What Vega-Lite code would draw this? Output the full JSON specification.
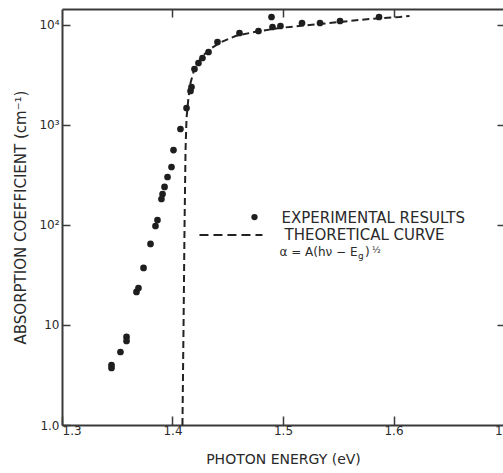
{
  "$schema": "https://vega.github.io/schema/vega-lite/v6.json",
  "width": 442,
  "height": 416,
  "autosize": {"type": "none"},
  "padding": {"left": 62, "top": 9, "right": 0, "bottom": 48},
  "background": "white",
  "config": {
    "font": "DejaVu Sans",
    "view": {"stroke": null},
    "axis": {"grid": false, "domainColor": "#3a3a3a", "domainWidth": 2, "tickColor": "#3a3a3a", "tickWidth": 1.5, "labelColor": "#2a2a2a", "titleColor": "#2a2a2a", "labelFont": "DejaVu Sans", "titleFont": "DejaVu Sans", "titleFontWeight": "normal"}
  },
  "datasets": {
    "exp": [
      {"energy": 1.3448, "alpha": 3.98}, {"energy": 1.3448, "alpha": 3.72}, {"energy": 1.3529, "alpha": 5.37},
      {"energy": 1.3584, "alpha": 7.59}, {"energy": 1.3584, "alpha": 6.92}, {"energy": 1.3674, "alpha": 21.4},
      {"energy": 1.3692, "alpha": 23.4}, {"energy": 1.3738, "alpha": 37.2}, {"energy": 1.3801, "alpha": 64.6},
      {"energy": 1.3846, "alpha": 97.7}, {"energy": 1.3864, "alpha": 112}, {"energy": 1.39, "alpha": 182},
      {"energy": 1.391, "alpha": 204}, {"energy": 1.3928, "alpha": 240}, {"energy": 1.3955, "alpha": 302},
      {"energy": 1.3991, "alpha": 380}, {"energy": 1.4009, "alpha": 562}, {"energy": 1.4072, "alpha": 912},
      {"energy": 1.4127, "alpha": 1479}, {"energy": 1.4163, "alpha": 2188}, {"energy": 1.4172, "alpha": 2399},
      {"energy": 1.4199, "alpha": 3631}, {"energy": 1.4235, "alpha": 4169}, {"energy": 1.4271, "alpha": 4677},
      {"energy": 1.4326, "alpha": 5370}, {"energy": 1.4407, "alpha": 6761}, {"energy": 1.4606, "alpha": 8318},
      {"energy": 1.4778, "alpha": 8710}, {"energy": 1.4896, "alpha": 12023}, {"energy": 1.4905, "alpha": 9550},
      {"energy": 1.4977, "alpha": 9772}, {"energy": 1.5172, "alpha": 10471}, {"energy": 1.5335, "alpha": 10471},
      {"energy": 1.5516, "alpha": 10965}, {"energy": 1.5869, "alpha": 12023}
    ],
    "theory": [
      {"energy": 1.409, "alpha": 1}, {"energy": 1.41, "alpha": 10}, {"energy": 1.4109, "alpha": 100},
      {"energy": 1.4118, "alpha": 562}, {"energy": 1.4127, "alpha": 1175}, {"energy": 1.4145, "alpha": 1905},
      {"energy": 1.4163, "alpha": 2630}, {"energy": 1.419, "alpha": 3388}, {"energy": 1.4226, "alpha": 4169},
      {"energy": 1.4281, "alpha": 5012}, {"energy": 1.4353, "alpha": 5888}, {"energy": 1.4443, "alpha": 6761},
      {"energy": 1.457, "alpha": 7762}, {"energy": 1.4742, "alpha": 8511}, {"energy": 1.4968, "alpha": 9333},
      {"energy": 1.524, "alpha": 10000}, {"energy": 1.5511, "alpha": 10715}, {"energy": 1.5783, "alpha": 11482},
      {"energy": 1.6054, "alpha": 12023}, {"energy": 1.6145, "alpha": 12303}
    ],
    "legendLine": [{"energy": 1.4244, "alpha": 79.4}, {"energy": 1.4814, "alpha": 79.4}],
    "legendDot": [{"energy": 1.4742, "alpha": 120}],
    "legendText": [
      {"energy": 1.4986, "alpha": 117, "label": "EXPERIMENTAL  RESULTS"},
      {"energy": 1.5014, "alpha": 79.4, "label": "THEORETICAL  CURVE"}
    ],
    "formula": [{"energy": 1.4968, "alpha": 53.7, "label": "α = A(hν − E"}],
    "formulaSub": [{"energy": 1.5679, "alpha": 49.0, "label": "g"}],
    "formulaClose": [{"energy": 1.5742, "alpha": 53.7, "label": ")"}],
    "formulaSup": [{"energy": 1.5805, "alpha": 56.2, "label": "½"}]
  },
  "resolve": {"axis": {"x": "independent", "y": "independent"}},
  "layer": [
    {
      "data": {"name": "theory"},
      "mark": {"type": "line", "color": "#222", "strokeWidth": 2, "strokeDash": [7, 4]},
      "encoding": {
        "x": {"field": "energy", "type": "quantitative", "scale": {"domain": [1.3, 1.7], "nice": false, "zero": false},
          "axis": {"values": [1.3, 1.4, 1.5, 1.6, 1.7], "labelExpr": "format(datum.value, '.1f')", "labelAlign": {"condition": {"test": "datum.value < 1.35", "value": "left"}, "value": "center"}, "tickSize": -9, "labelPadding": 9, "labelFontSize": 12, "title": "PHOTON ENERGY (eV)", "titleFontSize": 14, "titlePadding": 16}},
        "y": {"field": "alpha", "type": "quantitative", "scale": {"type": "log", "domain": [1, 14454], "nice": false},
          "axis": {"values": [1, 10, 100, 1000, 10000], "labelExpr": "datum.value == 1 ? '1.0' : datum.value == 10 ? '10' : datum.value == 100 ? '10²' : datum.value == 1000 ? '10³' : '10⁴'", "tickSize": -8, "labelPadding": 11, "labelFontSize": 12, "title": "ABSORPTION COEFFICIENT (cm⁻¹)", "titleFontSize": 15, "titlePadding": 10}},
        "order": {"field": "energy"}
      }
    },
    {
      "data": {"name": "exp"},
      "mark": {"type": "point", "filled": true, "color": "#1e1e1e", "size": 45, "opacity": 1},
      "encoding": {
        "x": {"field": "energy", "type": "quantitative", "axis": null},
        "y": {"field": "alpha", "type": "quantitative", "axis": null}
      }
    },
    {
      "data": {"name": "exp"},
      "mark": {"type": "point", "opacity": 0},
      "encoding": {
        "x": {"field": "energy", "type": "quantitative", "axis": {"orient": "top", "values": [1.4, 1.5, 1.6], "labels": false, "tickSize": -8, "title": null}},
        "y": {"field": "alpha", "type": "quantitative", "axis": {"orient": "right", "values": [10, 100, 1000, 10000], "labels": false, "tickSize": -7, "title": null}}
      }
    },
    {
      "data": {"name": "legendLine"},
      "mark": {"type": "line", "color": "#222", "strokeWidth": 2, "strokeDash": [9, 5]},
      "encoding": {
        "x": {"field": "energy", "type": "quantitative", "axis": null},
        "y": {"field": "alpha", "type": "quantitative", "axis": null}
      }
    },
    {
      "data": {"name": "legendDot"},
      "mark": {"type": "point", "filled": true, "color": "#1e1e1e", "size": 40, "opacity": 1},
      "encoding": {
        "x": {"field": "energy", "type": "quantitative", "axis": null},
        "y": {"field": "alpha", "type": "quantitative", "axis": null}
      }
    },
    {
      "data": {"name": "legendText"},
      "mark": {"type": "text", "align": "left", "baseline": "middle", "fontSize": 15, "color": "#2a2a2a"},
      "encoding": {
        "x": {"field": "energy", "type": "quantitative", "axis": null},
        "y": {"field": "alpha", "type": "quantitative", "axis": null},
        "text": {"field": "label"}
      }
    },
    {
      "data": {"name": "formula"},
      "mark": {"type": "text", "align": "left", "baseline": "middle", "fontSize": 12, "color": "#2a2a2a"},
      "encoding": {
        "x": {"field": "energy", "type": "quantitative", "axis": null},
        "y": {"field": "alpha", "type": "quantitative", "axis": null},
        "text": {"field": "label"}
      }
    },
    {
      "data": {"name": "formulaSub"},
      "mark": {"type": "text", "align": "left", "baseline": "middle", "fontSize": 9, "color": "#2a2a2a"},
      "encoding": {
        "x": {"field": "energy", "type": "quantitative", "axis": null},
        "y": {"field": "alpha", "type": "quantitative", "axis": null},
        "text": {"field": "label"}
      }
    },
    {
      "data": {"name": "formulaClose"},
      "mark": {"type": "text", "align": "left", "baseline": "middle", "fontSize": 12, "color": "#2a2a2a"},
      "encoding": {
        "x": {"field": "energy", "type": "quantitative", "axis": null},
        "y": {"field": "alpha", "type": "quantitative", "axis": null},
        "text": {"field": "label"}
      }
    },
    {
      "data": {"name": "formulaSup"},
      "mark": {"type": "text", "align": "left", "baseline": "middle", "fontSize": 9, "color": "#2a2a2a"},
      "encoding": {
        "x": {"field": "energy", "type": "quantitative", "axis": null},
        "y": {"field": "alpha", "type": "quantitative", "axis": null},
        "text": {"field": "label"}
      }
    }
  ]
}
